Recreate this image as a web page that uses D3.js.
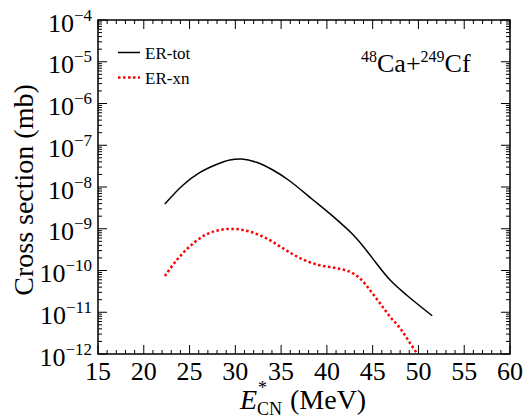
<!DOCTYPE html>
<html>
<head>
<meta charset="utf-8">
<script src="https://d3js.org/d3.v7.min.js"></script>
<style>
    body { margin: 0; background: #fff; }
</style>
</head>
<body>
<div id="chart"></div>
<script>
// Excitation energy of the compound nucleus (MeV)
const energyTot = [22.3, 24.3, 26.1, 28.0, 29.4, 30.7, 32.3, 34.1, 35.8, 38.5, 40.7, 42.7, 44.0, 45.4, 46.9, 48.7, 51.5];
const sigmaTot = [3.92e-9, 1.12e-8, 2.2e-8, 3.5e-8, 4.44e-8, 4.69e-8, 3.91e-8, 2.55e-8, 1.47e-8, 4.89e-9, 1.95e-9, 7.78e-10, 3.72e-10, 1.49e-10, 5.92e-11, 2.59e-11, 8.26e-12];

const energyXn = [22.3, 23.6, 25.0, 26.7, 28.3, 30.0, 31.6, 33.4, 35.3, 37.1, 39.1, 41.1, 42.5, 43.6, 44.7, 45.8, 46.9, 48.0, 49.1, 50.2];
const sigmaXn = [7.4e-11, 1.78e-10, 3.72e-10, 7.08e-10, 9.33e-10, 9.86e-10, 8.49e-10, 5.90e-10, 3.3e-10, 1.96e-10, 1.36e-10, 1.13e-10, 9.35e-11, 6.5e-11, 3.41e-11, 1.64e-11, 7.82e-12, 4.13e-12, 1.80e-12, 7.9e-13];

const xTicks = [15, 20, 25, 30, 35, 40, 45, 50, 55, 60];
const yExponents = [-4, -5, -6, -7, -8, -9, -10, -11, -12];
const legendLabels = ["ER-tot", "ER-xn"];

const width = 530, height = 418;
const plotLeft = 98, plotRight = 510, plotTop = 20, plotBottom = 354;

const svg = d3.select("#chart").append("svg")
    .attr("width", width)
    .attr("height", height)
    .attr("font-family", "'Liberation Serif', 'Times New Roman', serif");

const x = d3.scaleLinear().domain([15, 60]).range([plotLeft, plotRight]);
const y = d3.scaleLog().domain([1e-12, 1e-4]).range([plotBottom, plotTop]);

// Clip the curves to the frame
svg.append("clipPath").attr("id", "plot-clip")
    .append("rect")
    .attr("x", plotLeft).attr("y", plotTop)
    .attr("width", plotRight - plotLeft).attr("height", plotBottom - plotTop);

// Minor / major ticks on all four sides, pointing inward
const xMinor = d3.range(15, 61, 1);
const ticks = svg.append("g").attr("stroke", "#000").attr("stroke-width", 1);
xMinor.forEach(v => {
    const len = v % 5 === 0 ? 9 : 4;
    ticks.append("line").attr("x1", x(v)).attr("x2", x(v)).attr("y1", plotBottom).attr("y2", plotBottom - len);
    ticks.append("line").attr("x1", x(v)).attr("x2", x(v)).attr("y1", plotTop).attr("y2", plotTop + len);
});

const yMinor = [];
for (let e = -12; e < -4; e++) {
    for (let m = 2; m <= 9; m++) yMinor.push(m * Math.pow(10, e));
}
yMinor.forEach(v => {
    ticks.append("line").attr("x1", plotLeft).attr("x2", plotLeft + 4).attr("y1", y(v)).attr("y2", y(v));
    ticks.append("line").attr("x1", plotRight).attr("x2", plotRight - 4).attr("y1", y(v)).attr("y2", y(v));
});
yExponents.forEach(e => {
    const v = Math.pow(10, e);
    ticks.append("line").attr("x1", plotLeft).attr("x2", plotLeft + 9).attr("y1", y(v)).attr("y2", y(v));
    ticks.append("line").attr("x1", plotRight).attr("x2", plotRight - 9).attr("y1", y(v)).attr("y2", y(v));
});

// Frame
svg.append("rect")
    .attr("x", plotLeft).attr("y", plotTop)
    .attr("width", plotRight - plotLeft).attr("height", plotBottom - plotTop)
    .attr("fill", "none")
    .attr("stroke", "#000")
    .attr("stroke-width", 1.5);

// X tick labels
svg.selectAll(".xlabel")
    .data(xTicks)
    .enter()
    .append("text")
    .attr("class", "xlabel")
    .attr("x", d => x(d))
    .attr("y", 380)
    .attr("text-anchor", "middle")
    .attr("font-size", 26)
    .text(d => d);

// Y tick labels as 10^n
const yLab = svg.selectAll(".ylabel")
    .data(yExponents)
    .enter()
    .append("text")
    .attr("class", "ylabel")
    .attr("x", 92)
    .attr("y", d => y(Math.pow(10, d)) + 11.5)
    .attr("text-anchor", "end")
    .attr("font-size", 26);
yLab.append("tspan").text("10");
yLab.append("tspan")
    .attr("dy", -11)
    .attr("font-size", 17)
    .text(d => "\u2212" + Math.abs(d));

// Curves
const line = d3.line()
    .x(d => x(d[0]))
    .y(d => y(d[1]))
    .curve(d3.curveCatmullRom.alpha(0.5));

const plot = svg.append("g").attr("clip-path", "url(#plot-clip)");

plot.append("path")
    .datum(energyTot.map((e, i) => [e, sigmaTot[i]]))
    .attr("d", line)
    .attr("fill", "none")
    .attr("stroke", "#000")
    .attr("stroke-width", 1.5);

plot.append("path")
    .datum(energyXn.map((e, i) => [e, sigmaXn[i]]))
    .attr("d", line)
    .attr("fill", "none")
    .attr("stroke", "#ff0000")
    .attr("stroke-width", 2.5)
    .attr("stroke-dasharray", "2.5,2.5");

// Legend
const legendStyles = [
    { stroke: "#000", width: 1.5, dash: null },
    { stroke: "#ff0000", width: 2.5, dash: "2.5,2.5" }
];
legendLabels.forEach((name, i) => {
    const ly = 52.5 + i * 25;
    svg.append("line")
        .attr("x1", 118).attr("x2", 140)
        .attr("y1", ly).attr("y2", ly)
        .attr("stroke", legendStyles[i].stroke)
        .attr("stroke-width", legendStyles[i].width)
        .attr("stroke-dasharray", legendStyles[i].dash);
    svg.append("text")
        .attr("x", 145)
        .attr("y", ly + 6)
        .attr("font-size", 17)
        .text(name);
});

// Reaction label
const reaction = svg.append("text")
    .attr("x", 361)
    .attr("y", 72)
    .attr("font-size", 26);
reaction.append("tspan").attr("font-size", 16).attr("dy", -10).text("48");
reaction.append("tspan").attr("dy", 10).text("Ca+");
reaction.append("tspan").attr("font-size", 16).attr("dy", -10).text("249");
reaction.append("tspan").attr("dy", 10).text("Cf");

// Axis titles
svg.append("text")
    .attr("transform", "translate(33," + ((plotTop + plotBottom) / 2 + 3) + ") rotate(-90)")
    .attr("text-anchor", "middle")
    .attr("font-size", 28)
    .text("Cross section (mb)");

// E*_CN (MeV): star above, CN below
const xTitle = svg.append("text").attr("font-size", 28);
xTitle.append("tspan").attr("x", 240).attr("y", 409).attr("font-style", "italic").text("E");
xTitle.append("tspan").attr("x", 258).attr("y", 394).attr("font-size", 18).text("*");
xTitle.append("tspan").attr("x", 257).attr("y", 415).attr("font-size", 18).text("CN");
xTitle.append("tspan").attr("x", 290).attr("y", 409).text("(MeV)");
</script>
</body>
</html>
